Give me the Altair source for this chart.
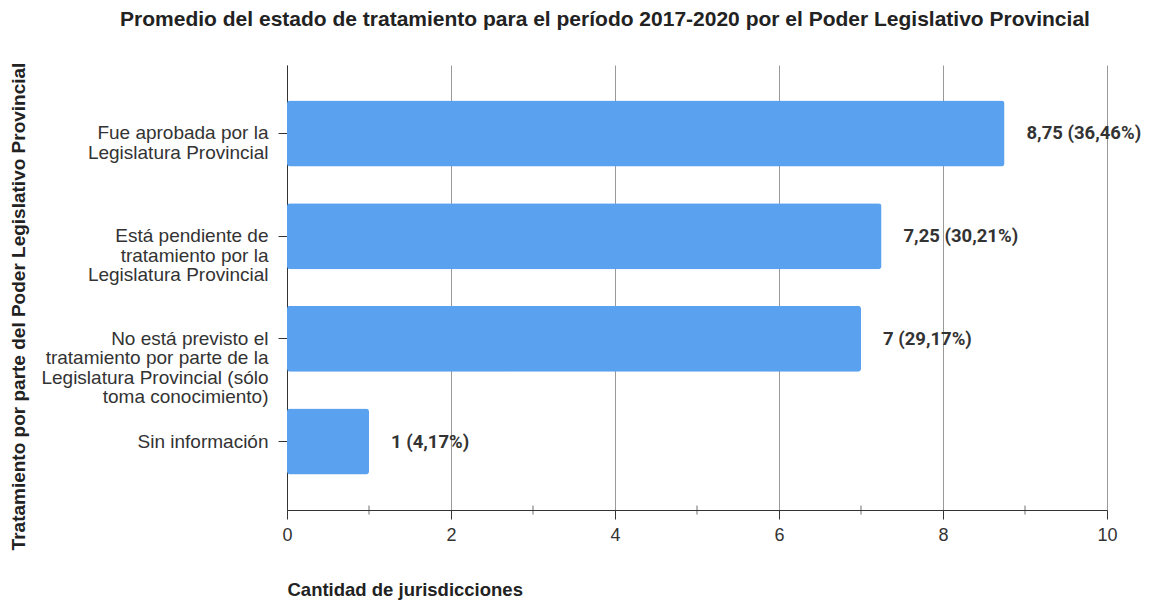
import altair as alt
import pandas as pd

categories = [
    "Fue aprobada por la|Legislatura Provincial",
    "Está pendiente de|tratamiento por la|Legislatura Provincial",
    "No está previsto el|tratamiento por parte de la|Legislatura Provincial (sólo|toma conocimiento)",
    "Sin información",
]
values = [8.75, 7.25, 7, 1]
percents = [36.46, 30.21, 29.17, 4.17]
major_ticks = [0, 2, 4, 6, 8, 10]
minor_ticks = [1, 3, 5, 7, 9]

def fmt(v):
    return f"{v:g}".replace(".", ",")

df = pd.DataFrame({
    "cat": categories,
    "val": values,
    "label": [f"{fmt(v)} ({fmt(p)}%)" for v, p in zip(values, percents)],
})
minor_df = pd.DataFrame({"m": minor_ticks})

FONT = "Liberation Sans"

y_enc = alt.Y(
    "cat:N", sort=categories,
    scale=alt.Scale(paddingInner=0.357, paddingOuter=0.345),
    axis=alt.Axis(
        title="Tratamiento por parte del Poder Legislativo Provincial",
        labelExpr="split(datum.label, '|')",
        labelLineHeight=19.5, labelFontSize=19, labelFont=FONT, labelColor="#333333",
        labelPadding=10, tickSize=9, tickColor="#333333", domainColor="#333333",
        grid=False, labelLimit=300,
        titleFont=FONT, titleFontSize=19, titleFontWeight="bold", titleColor="#222222",
        titleAngle=-90, titleX=-269, titleY=241, titleAlign="center", titleBaseline="middle",
    ),
)

x_enc = alt.X(
    "val:Q", scale=alt.Scale(domain=[0, 10], nice=False),
    axis=alt.Axis(
        title="Cantidad de jurisdicciones", values=major_ticks, format="d",
        labelFontSize=18, labelFont=FONT, labelColor="#333333", labelPadding=7,
        labelFlush=False,
        tickSize=9, tickColor="#333333", domainColor="#333333",
        grid=True, gridColor="#999999", gridWidth=1,
        titleFont=FONT, titleFontSize=18.5, titleFontWeight="bold", titleColor="#222222",
        titleX=0, titleY=85, titleAlign="left", titleBaseline="alphabetic",
    ),
)

bars = alt.Chart(df).mark_bar(color="#5aa2f0", cornerRadius=3).encode(x=x_enc, y=y_enc)

text = alt.Chart(df).mark_text(
    align="left", baseline="middle", dx=22, font="Roboto", fontWeight="bold",
    fontSize=18.5, color="#333333",
).encode(x="val:Q", y=alt.Y("cat:N", sort=categories), text="label:N")

minor = alt.Chart(minor_df).mark_tick(color="#333333", thickness=1, size=9).encode(
    x="m:Q", y=alt.value(445)
)

chart = alt.layer(bars, text, minor).properties(
    width=820, height=445,
    autosize=alt.AutoSizeParams(type="none"),
    padding={"left": 279, "top": 57, "right": 39, "bottom": 90},
    title=alt.TitleParams(
        "Promedio del estado de tratamiento para el período 2017-2020 por el Poder Legislativo Provincial",
        font=FONT, fontSize=21, fontWeight="bold", color="#222222",
        anchor="middle", dx=-92, offset=32,
    ),
).configure_view(stroke=None)

chart.save("out.html", embed_options={"renderer": "svg", "actions": False})
